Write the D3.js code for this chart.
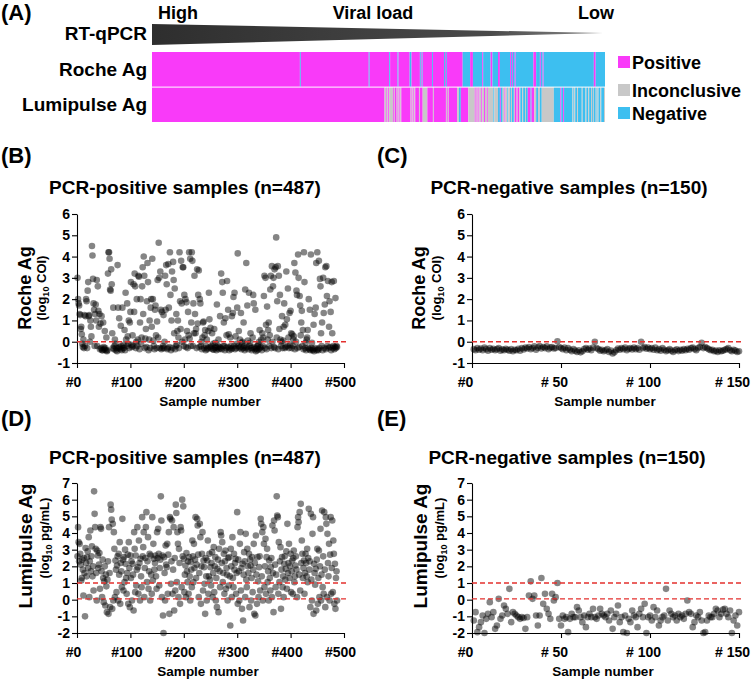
<!DOCTYPE html>
<html><head><meta charset="utf-8">
<script src="https://cdn.jsdelivr.net/npm/d3@7"></script>
<style>
body{margin:0;background:#fff}
svg text{font-family:"Liberation Sans",Arial,Helvetica,sans-serif;font-weight:bold;fill:#000}
</style>
</head><body>
<svg id="chart" width="752" height="680"></svg>
<script>
// ---------------- DATA ----------------
const heatCategories = ["Positive","Inconclusive","Negative"];
const heatCodes = ["P","I","N"];
const heatRows = ["Roche Ag","Lumipulse Ag"];
const viralLoadLabels = ["High","Viral load","Low"];

// run-length sequences of the 487 PCR-positive samples, ordered by viral load
const rocheRuns = [["P",159],["N",1],["P",73],["N",1],["P",21],["N",1],["P",8],["N",1],["P",12],["N",2],["P",9],["N",1],["P",1],["N",1],["P",10],["N",1],["P",12],["N",1],["P",1],["N",1],["P",17],["N",8],["P",3],["N",10],["P",1],["N",8],["P",2],["N",6],["P",2],["N",11],["P",1],["N",1],["P",1],["N",2],["P",1],["N",19],["P",3],["N",4],["P",1],["N",2],["P",1],["N",54],["P",2],["N",10]];
const lumiRuns = [["P",250],["I",2],["P",1],["I",1],["P",1],["I",4],
["P",1],["I",1],["P",2],["I",1],["P",1],["I",1],["P",1],["I",1],["P",10],
["I",1],["P",1],["I",1],["P",1],["I",1],
["P",4],["I",1],["P",3],["I",5],
["P",6],["I",1],["P",13],["I",1],["P",1],["I",1],["P",9],["I",2],["N",2],["P",8],["I",7],
["P",1],["I",1],["P",1],["I",1],["P",1],
["I",2],["P",1],["I",2],["P",1],["I",2],["P",1],["I",6],["N",1],["I",4],
["N",2],["P",1],["N",2],["I",2],["P",1],["I",2],
["N",1],["I",2],["N",1],["I",1],["N",2],["I",1],
["P",2],["I",1],["P",2],["I",1],
["N",2],["I",1],["N",2],["I",1],["N",2],
["P",3],["N",1],["P",3],
["I",2],["N",2],["I",2],["N",2],["I",13],
["N",7],["P",1],["N",2],["P",1],["N",9],
["I",1],["N",1],["I",1],["N",2],["I",1],["N",4],
["I",1],["N",3],["I",1],["N",2],["I",1],["N",2],["I",1],["N",1],["I",1],["N",2],["I",1],["N",1],["I",1],["N",2],["I",1],["N",3],["I",1]];

// (B) Roche Ag, PCR-positive samples, log10 COI
const rochePos = [
3.0,2.0,1.8,1.7,1.3,1.25,0.6,0.7,0.35,-0.1,
-0.25,0.1,-0.3,1.25,-0.2,1.2,2.0,1.9,-0.3,2.4,
2.8,1.2,1.25,0.0,1.0,0.7,0.25,4.5,4.05,2.95,
1.8,1.5,-0.2,1.3,1.75,1.0,2.9,-0.2,2.6,1.45,
0.7,1.3,-0.35,0.85,-0.3,1.2,-0.4,-0.4,0.9,-0.25,
-0.35,0.5,-0.3,-0.4,0.2,-0.45,-0.4,3.2,4.2,4.2,
3.9,2.45,2.4,3.4,2.7,0.4,-0.3,1.6,-0.35,-0.2,
0.1,-0.1,-0.4,-0.3,-0.45,3.6,1.6,-0.3,1.1,-0.25,
-0.35,0.75,-0.2,-0.4,1.6,-0.3,-0.15,-0.3,0.55,-0.4,
2.3,0.1,-0.2,1.8,0.25,-0.1,1.0,-0.3,0.9,1.4,
2.8,-0.15,-0.25,0.3,-0.2,2.7,1.4,3.2,2.6,-0.3,
0.0,2.0,-0.2,0.1,3.1,3.05,-0.35,0.9,2.0,-0.1,
0.2,2.6,3.5,1.3,4.0,3.1,-0.3,0.15,0.6,-0.25,
1.9,3.7,2.8,-0.4,0.1,1.0,-0.3,1.6,2.0,0.7,
3.9,2.0,0.05,-0.2,-0.35,1.5,1.7,0.3,-0.3,0.95,
2.9,0.2,4.65,3.0,-0.3,3.3,1.5,-0.35,1.4,-0.3,
-0.2,1.25,-0.3,0.0,3.1,1.5,3.6,2.7,-0.35,-0.3,
3.65,1.6,-0.25,4.2,2.2,-0.4,1.0,3.3,-0.3,3.75,
2.9,0.4,2.5,-0.35,-0.2,1.3,-0.15,0.5,1.0,0.2,
-0.3,4.2,1.9,0.6,3.8,1.8,0.0,3.5,3.5,-0.2,
2.2,0.1,2.0,-0.25,1.85,0.5,-0.3,1.4,0.3,4.2,
0.15,3.9,-0.2,0.9,4.2,3.8,-0.2,1.8,0.4,3.1,
1.3,0.4,0.6,-0.3,3.4,0.85,2.2,3.35,-0.25,2.0,
1.8,-0.2,0.0,-0.35,0.2,0.9,0.95,-0.3,0.3,0.55,
-0.4,-0.2,0.1,-0.35,-0.3,0.5,2.3,1.05,-0.25,0.65,
-0.3,-0.2,0.4,-0.35,-0.1,-0.38,0.6,-0.3,-0.05,-0.25,
-0.4,1.75,-0.3,-0.2,0.1,-0.35,-0.25,1.2,-0.3,3.2,
-0.35,2.8,2.3,-0.2,0.9,-0.2,-0.4,1.1,-0.3,0.3,
2.85,-0.25,1.5,0.35,-0.4,-0.3,0.2,-0.2,-0.35,1.2,
-0.3,1.35,2.1,-0.2,2.3,-0.35,0.25,-0.3,-0.1,1.6,
4.15,-0.2,0.5,-0.3,0.1,-0.25,1.35,-0.35,-0.05,0.0,
-0.3,0.9,-0.2,-0.4,2.45,-0.3,3.7,-0.25,1.7,0.05,
-0.35,2.3,-0.2,-0.05,0.4,-0.3,-0.4,-0.3,0.2,2.2,
1.8,-0.25,-0.35,1.5,-0.45,-0.3,-0.4,-0.2,-0.15,-0.35,
0.0,0.55,-0.3,-0.25,0.1,-0.4,0.4,-0.2,0.2,2.15,
3.1,-0.3,3.0,0.8,-0.35,1.65,0.1,0.55,0.9,-0.2,
0.3,2.45,3.1,-0.3,3.55,0.0,2.6,3.0,-0.25,3.4,
-0.3,3.5,4.9,0.2,1.9,3.55,-0.35,3.1,0.6,2.2,
0.1,-0.2,0.0,1.2,-0.3,0.05,0.7,1.8,-0.3,0.8,
-0.25,3.3,1.05,-0.2,2.5,0.2,-0.3,1.35,-0.15,1.45,
0.4,-0.3,0.35,-0.2,0.1,0.25,3.7,-0.35,3.25,0.0,
2.4,2.2,-0.3,4.1,3.0,-0.25,2.15,1.7,0.3,0.9,
1.45,-0.2,0.55,-0.35,4.2,2.8,-0.3,-0.05,-0.4,0.1,
0.2,0.55,-0.3,2.0,-0.35,1.5,-0.4,4.1,-0.3,-0.05,
-0.4,-0.35,0.8,-0.45,1.3,-0.3,1.6,3.7,-0.4,4.2,
-0.35,-0.4,3.8,-0.3,2.95,2.6,0.4,-0.2,0.9,-0.4,
3.0,1.35,-0.3,1.75,3.5,-0.35,3.55,2.15,-0.2,2.85,
-0.3,0.7,1.9,-0.25,1.4,-0.4,2.8,0.4,-0.3,-0.2,
2.85,-0.35,-0.25,2.05,-0.3,-0.2,-0.25];

// (C) Roche Ag, PCR-negative samples
const rocheNeg = [
-0.35,-0.4,-0.3,-0.38,-0.32,-0.4,-0.28,-0.35,-0.42,-0.3,
-0.38,-0.33,-0.4,-0.35,-0.3,-0.42,-0.36,-0.4,-0.33,-0.38,
-0.42,-0.35,-0.45,-0.38,-0.4,-0.33,-0.42,-0.3,-0.36,-0.28,
-0.32,-0.25,-0.35,-0.3,-0.22,-0.38,-0.28,-0.2,-0.32,-0.25,
-0.3,-0.22,-0.35,-0.28,-0.25,-0.32,-0.3,0.02,-0.25,-0.3,
-0.35,-0.28,-0.4,-0.3,-0.38,-0.45,-0.35,-0.42,-0.48,-0.4,
-0.5,-0.45,-0.35,-0.3,-0.38,-0.32,-0.4,-0.28,0.0,-0.3,
-0.35,-0.42,-0.38,-0.45,-0.4,-0.35,-0.48,-0.42,-0.55,-0.5,
-0.4,-0.32,-0.38,-0.3,-0.35,-0.28,-0.4,-0.33,-0.3,-0.36,
-0.28,-0.35,-0.3,-0.38,0.0,-0.3,-0.25,-0.33,-0.28,-0.35,
-0.3,-0.38,-0.28,-0.4,-0.35,-0.42,-0.3,-0.38,-0.45,-0.4,
-0.35,-0.42,-0.48,-0.4,-0.36,-0.44,-0.38,-0.42,-0.35,-0.4,
-0.33,-0.38,-0.3,-0.28,-0.35,-0.4,-0.3,-0.25,-0.05,-0.3,
-0.25,-0.3,-0.35,-0.4,-0.38,-0.45,-0.42,-0.48,-0.4,-0.45,
-0.42,-0.38,-0.35,-0.3,-0.4,-0.45,-0.38,-0.42,-0.48,-0.45];

// (D) Lumipulse Ag, PCR-positive samples, log10 pg/mL
const lumiPos = [
2.6,4.35,3.45,2.3,3.35,2.75,2.1,1.15,1.3,2.4,
1.8,0.25,2.5,1.6,-1.0,3.1,2.2,1.4,2.55,2.9,
1.9,3.75,0.15,2.3,4.15,1.7,2.6,3.2,1.4,2.0,
0.55,6.5,5.15,4.35,3.05,1.6,-0.05,2.95,2.65,1.9,
2.1,2.8,0.65,4.35,4.25,1.7,0.15,2.4,1.3,-0.15,
1.1,2.0,-0.35,1.5,0.8,-0.75,1.2,2.3,-0.85,4.35,
1.6,-0.45,5.7,5.4,4.8,-0.55,4.55,-0.05,4.05,3.05,
0.15,2.35,1.8,0.45,2.05,2.6,-0.05,2.75,1.5,3.45,
-0.25,2.2,1.7,0.75,4.85,2.4,0.55,2.55,1.05,3.0,
2.15,1.3,0.35,1.6,2.7,-0.25,3.45,1.9,-0.45,2.65,
1.3,2.3,-0.05,2.15,1.5,-0.65,4.05,3.05,0.45,2.65,
0.85,1.8,4.35,1.95,0.35,3.55,2.2,-0.05,2.45,1.4,
0.75,4.95,2.6,3.15,4.05,0.15,1.9,2.5,4.35,5.25,
1.05,2.3,3.75,0.65,1.7,2.75,-0.05,2.65,1.5,0.35,
4.95,1.15,3.35,2.45,1.8,2.2,2.65,1.4,0.65,4.05,
2.5,4.25,2.75,0.85,1.9,2.4,6.2,4.75,0.15,2.65,
-0.95,-2.0,2.55,1.6,-0.05,3.25,2.1,1.95,3.35,0.35,
2.7,4.05,-0.85,4.95,4.85,0.95,2.3,4.75,0.35,1.8,
4.35,-0.65,2.5,0.55,5.7,5.2,1.05,4.05,3.35,0.15,
3.05,2.2,-0.25,4.35,4.15,0.75,6.0,2.6,5.6,2.45,
0.45,1.5,2.05,0.15,2.8,1.7,1.05,2.3,0.35,2.55,
1.4,-0.05,2.25,1.8,0.75,3.55,2.6,1.05,3.35,1.9,
2.4,4.95,1.3,2.1,4.85,4.45,2.7,0.15,1.6,4.55,
3.75,-0.25,2.0,2.75,4.05,0.55,2.35,1.95,0.95,-0.85,
2.5,1.4,-0.05,2.35,3.55,0.35,1.4,2.75,1.2,1.95,
0.85,2.2,2.85,0.15,1.6,3.15,0.45,2.0,2.55,-0.05,
1.3,-0.45,1.85,2.4,-0.75,3.05,1.7,0.75,4.05,3.85,
2.2,3.45,1.05,1.6,2.75,0.35,2.3,2.95,0.65,1.9,
1.5,-0.05,2.5,0.85,2.55,1.4,-1.55,3.05,2.0,0.15,
3.75,1.3,0.75,2.75,1.8,2.2,2.45,0.35,1.6,5.25,
-0.25,2.4,1.7,-0.05,3.35,4.05,0.55,1.9,-0.55,2.15,
-1.25,1.5,2.85,2.3,0.15,3.95,1.2,0.75,3.05,2.0,
1.6,2.75,-0.45,2.4,2.05,-0.05,1.3,2.55,0.45,1.8,
3.35,-0.85,2.2,-0.95,3.85,1.5,-0.25,2.55,1.1,0.15,
1.95,2.6,0.55,4.85,4.55,1.4,4.05,-0.05,4.35,3.35,
0.75,2.0,3.65,0.35,2.55,3.05,1.05,1.7,-0.05,2.35,
1.3,0.55,1.95,2.5,0.15,4.45,1.6,-0.75,4.75,4.15,
2.1,0.75,1.5,6.2,5.05,4.95,0.35,3.45,1.05,2.3,
3.15,-0.55,1.8,2.55,0.75,1.4,0.15,2.15,2.6,1.2,
1.85,2.9,0.65,4.55,1.6,2.2,3.35,1.3,2.0,2.75,
0.45,1.7,2.35,0.35,2.5,2.95,1.05,1.4,2.05,2.6,
1.8,0.15,4.35,4.95,4.65,1.5,5.25,0.55,5.75,2.2,
3.55,2.75,1.3,1.9,2.35,0.35,1.6,2.75,2.2,1.4,
3.05,1.05,2.5,5.45,1.8,2.3,-0.45,5.15,1.2,-0.05,
3.95,4.95,-0.85,2.15,1.6,0.9,1.85,-0.65,2.4,3.05,
-0.25,1.3,2.95,0.15,2.0,4.25,-0.05,1.5,5.35,0.75,
2.6,0.35,5.25,1.8,-0.45,4.95,4.55,0.15,3.95,2.2,
1.4,3.35,-0.05,2.7,4.95,0.35,1.9,4.75,0.45,3.55,
2.75,-0.25,2.15,-0.55,1.3,1.7,-0.05];

// (E) Lumipulse Ag, PCR-negative samples
const lumiNeg = [
-1.25,-0.75,-1.95,-1.65,-1.35,-0.95,-2.0,-1.15,-0.85,-0.15,
-1.05,-0.75,-1.75,-1.55,0.05,-1.15,-0.95,-0.35,-0.55,-0.85,
0.65,-1.35,-0.75,-0.85,-0.95,-1.05,-1.15,-1.05,-1.1,-1.75,
-1.05,0.25,1.1,0.05,0.25,-0.95,-1.55,-0.95,1.3,-0.25,
0.35,-0.55,-0.85,-1.15,0.35,-0.05,0.15,1.0,-1.15,-1.55,
-0.95,-1.15,-1.05,-1.95,-1.15,-0.85,-1.05,-1.05,-0.45,-0.65,
-1.05,-1.35,-0.95,-1.65,-1.05,-0.85,-1.05,-0.55,-1.05,-1.15,
-0.95,-0.55,-0.85,-0.95,-1.05,-0.85,-1.25,-0.65,-1.75,-1.05,
-0.85,-0.35,-1.35,-1.05,-1.95,-0.95,-2.0,-1.15,-1.35,-0.65,
-0.95,-1.05,-1.65,-0.85,-0.55,-1.05,-0.25,-2.0,-1.05,-0.95,
-1.25,-0.45,-1.05,-0.65,-1.55,-1.25,-1.05,-0.95,0.65,-1.25,
-0.65,-0.85,-1.05,-0.95,-1.25,-0.85,-1.05,-0.95,-1.15,-0.85,
-0.05,-0.75,-0.85,-1.65,-1.35,-0.95,-1.05,-0.75,-1.25,-2.0,
-1.95,-1.25,-0.95,-1.05,-1.05,-0.85,-0.55,-0.65,-1.05,-0.85,
-0.6,-0.55,-0.85,-1.05,-0.65,-2.0,-1.25,-0.95,-1.55,-0.75];

const xTicksPos = [0,100,200,300,400,500];
const xTickLabelsPos = ["#0","#100","#200","#300","#400","#500"];
const xTicksNeg = [0,50,100,150];
const xTickLabelsNeg = ["#0","# 50","# 100","# 150"];
const rocheYTicks = [-1,0,1,2,3,4,5,6];
const lumiYTicks = [-2,-1,0,1,2,3,4,5,6,7];
const rocheCutoffs = [0];
const lumiCutoffs = [0.05,1];
const panelTitles = ["PCR-positive samples (n=487)","PCR-negative samples (n=150)"];

// ---------------- DRAW ----------------
const svg = d3.select("#chart");
const defs = svg.append("defs");

// ---- (A) heat strip ----
const nPos = d3.sum(rocheRuns, d => d[1]);
const hx = d3.scaleLinear().domain([0, nPos]).range([152, 605]);
const hColor = d3.scaleOrdinal().domain(heatCodes).range(["#f93af9","#c8c8c8","#3dbff0"]);

svg.append("text").attr("x",1).attr("y",20).style("font-size","22px").text("(A)");
svg.append("text").attr("x",hx(0)+6).attr("y",19).style("font-size","18px").text(viralLoadLabels[0]);
svg.append("text").attr("x",373).attr("y",19).attr("text-anchor","middle").style("font-size","18px").text(viralLoadLabels[1]);
svg.append("text").attr("x",hx(nPos)+9).attr("y",19).attr("text-anchor","end").style("font-size","18px").text(viralLoadLabels[2]);

const grad = defs.append("linearGradient").attr("id","tri").attr("x1","0").attr("x2","1").attr("y1","0").attr("y2","0");
grad.append("stop").attr("offset","0").attr("stop-color","#2e2e2e");
grad.append("stop").attr("offset","0.75").attr("stop-color","#4a4a4a");
grad.append("stop").attr("offset","1").attr("stop-color","#8a8a8a");
svg.append("path")
  .attr("d", d3.line()([[hx(0),24],[hx(nPos)-2,33],[hx(0),45]]) + "Z")
  .attr("fill","url(#tri)");

svg.append("text").attr("x",147).attr("y",40).attr("text-anchor","end").style("font-size","19px").text("RT-qPCR");

function runsToCells(runs){
  let s = 0;
  return runs.map(([c,n]) => { const r = {c, start:s, n}; s += n; return r; });
}
const rowY = [[52,86.6],[87.6,122]];
[rocheRuns, lumiRuns].forEach((runs, ri) => {
  svg.append("g").selectAll("rect").data(runsToCells(runs)).join("rect")
    .attr("x", d => hx(d.start))
    .attr("width", d => hx(d.start + d.n) - hx(d.start))
    .attr("y", rowY[ri][0]).attr("height", rowY[ri][1]-rowY[ri][0])
    .attr("fill", d => hColor(d.c));
  svg.append("text").attr("x",147).attr("y",(rowY[ri][0]+rowY[ri][1])/2+6.5)
    .attr("text-anchor","end").style("font-size","19px").text(heatRows[ri]);
});

const legY = [62,90,113];
heatCategories.forEach((c,i) => {
  svg.append("rect").attr("x",618).attr("y",legY[i]-6).attr("width",12).attr("height",12).attr("fill",hColor(heatCodes[i]));
  svg.append("text").attr("x",632).attr("y",legY[i]+6.5).style("font-size","18px").text(c);
});

// ---- scatter panels ----
function panel(o){
  const x = d3.scaleLinear().domain(o.xDomain).range([o.left, o.right]);
  const y = d3.scaleLinear().domain(o.yDomain).range([o.bottom, o.top]);
  const g = svg.append("g");

  g.append("text").attr("x",o.tagX).attr("y",o.tagY).style("font-size","22px").text(o.tag);
  g.append("text").attr("x",o.titleX).attr("y",o.titleY).attr("text-anchor","middle").style("font-size","19px").text(o.title);

  g.append("text").attr("transform",`translate(${o.yl1X},${o.ylY}) rotate(-90)`)
    .attr("text-anchor","middle").style("font-size",o.ylSize).text(o.yLabel);
  const yl2 = g.append("text").attr("transform",`translate(${o.yl2X},${o.ylY2}) rotate(-90)`)
    .attr("text-anchor","middle").style("font-size","13px");
  yl2.append("tspan").text("(log");
  yl2.append("tspan").attr("dy",3).style("font-size","9px").text("10");
  yl2.append("tspan").attr("dy",-3).text(" " + o.unit + ")");

  g.append("g").selectAll("circle").data(o.values).join("circle")
    .attr("cx",(d,i) => x(i+1)).attr("cy", d => y(d)).attr("r",3.3)
    .attr("fill","#000").attr("fill-opacity",0.48);

  const ya = g.append("g").attr("transform",`translate(${o.left},0)`)
    .call(d3.axisLeft(y).tickValues(o.yTicks).tickFormat(d => String(d)).tickSize(5).tickSizeOuter(0).tickPadding(2));
  const xa = g.append("g").attr("transform",`translate(0,${o.bottom})`)
    .call(d3.axisBottom(x).tickValues(o.xTicks).tickFormat((d,i) => o.xLabels[i]).tickSize(5).tickSizeOuter(0));
  [ya, xa].forEach(a => {
    a.attr("font-family",null).attr("font-size",null);
    a.selectAll("path,line").attr("stroke","#000").attr("stroke-width",1.1);
    a.selectAll("text").style("font-size","14px").attr("fill","#000");
  });
  xa.selectAll("text").attr("dy",null).attr("y",o.xTickDy).attr("dx",o.xTickShift);

  g.append("text").attr("x",o.xlX).attr("y",o.xlY).attr("text-anchor","middle").style("font-size","13.5px").text("Sample number");

  g.append("g").selectAll("line").data(o.cutoffs).join("line")
    .attr("x1",o.left).attr("x2",o.right+4)
    .attr("y1",d => y(d)).attr("y2",d => y(d))
    .attr("stroke","#e3302e").attr("stroke-width",1.4).attr("stroke-dasharray","5,3");
}

panel({tag:"(B)",tagX:1,tagY:163,title:panelTitles[0],titleX:185,titleY:194,
  yLabel:"Roche Ag",ylSize:"18px",unit:"COI",yl1X:31,yl2X:46,ylY:288,ylY2:288,
  values:rochePos,xDomain:[0,500],left:77,right:344,yDomain:[-1,6],top:214,bottom:363,
  yTicks:rocheYTicks,xTicks:xTicksPos,xLabels:xTickLabelsPos,xTickDy:24,xTickShift:-4,
  xlX:210,xlY:406,cutoffs:rocheCutoffs});
panel({tag:"(C)",tagX:377,tagY:163,title:panelTitles[1],titleX:569,titleY:194,
  yLabel:"Roche Ag",ylSize:"18px",unit:"COI",yl1X:425,yl2X:441,ylY:288,ylY2:288,
  values:rocheNeg,xDomain:[0,150],left:472,right:739,yDomain:[-1,6],top:214,bottom:363,
  yTicks:rocheYTicks,xTicks:xTicksNeg,xLabels:xTickLabelsNeg,xTickDy:24,xTickShift:-7,
  xlX:605,xlY:406,cutoffs:rocheCutoffs});
panel({tag:"(D)",tagX:1,tagY:426,title:panelTitles[0],titleX:185,titleY:464,
  yLabel:"Lumipulse Ag",ylSize:"19px",unit:"pg/mL",yl1X:32,yl2X:49,ylY:546,ylY2:538,
  values:lumiPos,xDomain:[0,500],left:77,right:344,yDomain:[-2,7],top:483,bottom:633,
  yTicks:lumiYTicks,xTicks:xTicksPos,xLabels:xTickLabelsPos,xTickDy:24,xTickShift:-4,
  xlX:208,xlY:676,cutoffs:lumiCutoffs});
panel({tag:"(E)",tagX:377,tagY:426,title:panelTitles[1],titleX:567,titleY:464,
  yLabel:"Lumipulse Ag",ylSize:"19px",unit:"pg/mL",yl1X:427,yl2X:444,ylY:546,ylY2:538,
  values:lumiNeg,xDomain:[0,150],left:472,right:739,yDomain:[-2,7],top:483,bottom:633,
  yTicks:lumiYTicks,xTicks:xTicksNeg,xLabels:xTickLabelsNeg,xTickDy:24,xTickShift:-7,
  xlX:603,xlY:676,cutoffs:lumiCutoffs});
</script>
</body></html>
